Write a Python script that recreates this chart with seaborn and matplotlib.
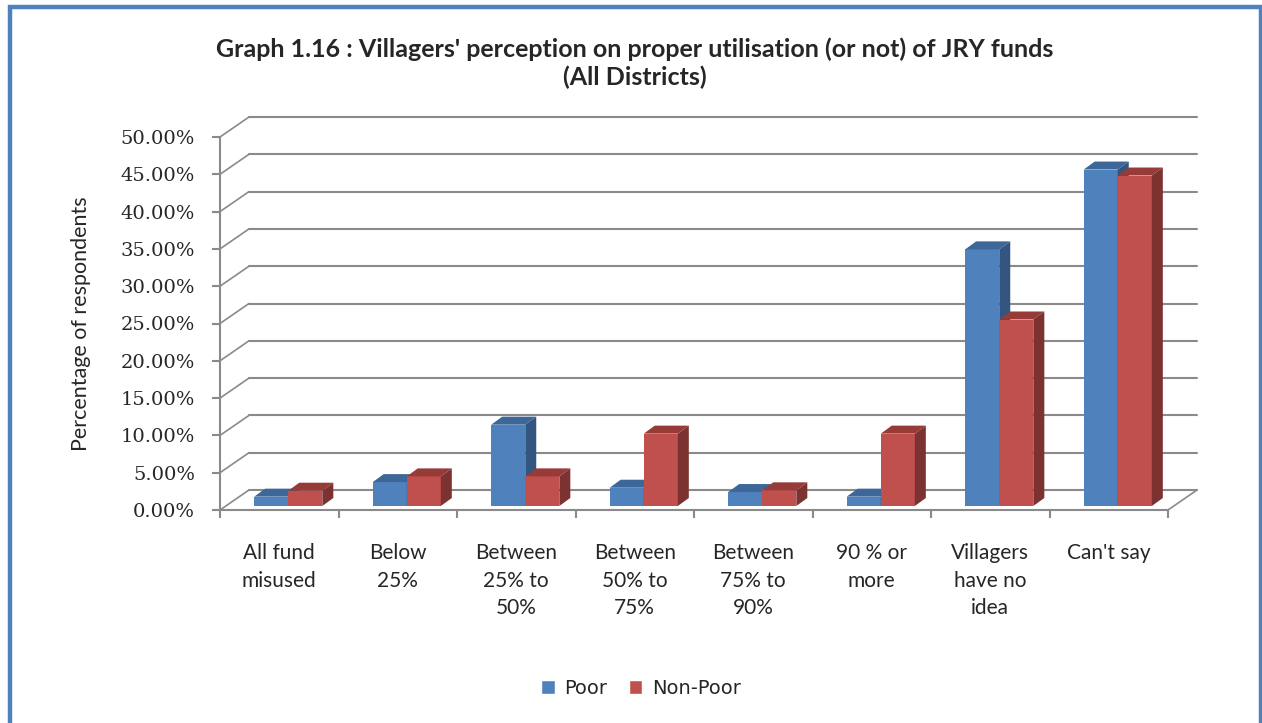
import pandas as pd
import matplotlib.pyplot as plt
import seaborn as sns
from matplotlib.patches import Polygon, Rectangle
from matplotlib.ticker import FuncFormatter, MultipleLocator

sns.set_style('white')
plt.rcParams['font.family'] = ['Lato', 'DejaVu Sans']

# data (share of respondents)
categories = ['All fund\nmisused', 'Below\n25%', 'Between\n25% to\n50%', 'Between\n50% to\n75%',
              'Between\n75% to\n90%', '90 % or\nmore', 'Villagers\nhave no\nidea', "Can't say"]
poor = [0.0125, 0.032, 0.109, 0.0245, 0.0187, 0.0125, 0.344, 0.451]
non_poor = [0.0205, 0.0397, 0.0397, 0.097, 0.021, 0.097, 0.250, 0.443]
groups = ['Poor', 'Non-Poor']

df = pd.DataFrame({
    'category': categories * 2,
    'group': ['Poor'] * len(categories) + ['Non-Poor'] * len(categories),
    'value': poor + non_poor,
})

front = {'Poor': '#4F81BD', 'Non-Poor': '#C0504D'}
top_c = {'Poor': '#3D6699', 'Non-Poor': '#973B38'}
side_c = {'Poor': '#34557F', 'Non-Poor': '#7B3230'}
grid_c = '#8A8A8A'

W, H = 1262, 723
fig = plt.figure(figsize=(W / 100, H / 100), dpi=100)
# front plane of the 3d box, in pixels
x0, x1, yb, yt = 220, 1168, 510, 137
ax = fig.add_axes([x0 / W, 1 - yb / H, (x1 - x0) / W, (yb - yt) / H])

sns.barplot(data=df, x='category', y='value', hue='group', hue_order=groups,
            palette=front, width=0.575, saturation=1, ax=ax, legend=True)

ax.set_xlim(-0.5, len(categories) - 0.5)
ax.set_ylim(0, 0.5)

# pixel -> data units
xpp = len(categories) / (x1 - x0)
ypp = 0.5 / (yb - yt)

# back wall offset, bar offset and bar depth (pixels)
wall_dx, wall_dy = 29 * xpp, 20 * ypp
bar_dx, bar_dy = 9 * xpp, 4 * ypp
dep_x, dep_y = 11 * xpp, 8 * ypp

# walls: grid on back wall, diagonals on side wall, floor edge
xl, xr = ax.get_xlim()
for k in range(11):
    y = k * 0.05
    ax.plot([xl + wall_dx, xr + wall_dx], [y + wall_dy] * 2, color=grid_c, lw=1.5,
            clip_on=False, zorder=0.5)
    ax.plot([xl, xl + wall_dx], [y, y + wall_dy], color=grid_c, lw=1.2,
            clip_on=False, zorder=0.5)
ax.plot([xr, xr + wall_dx], [0, wall_dy], color=grid_c, lw=1.2, clip_on=False, zorder=0.5)

# give the bars a 3d look
for i, (cont, g) in enumerate(zip(ax.containers, groups)):
    for p in cont.patches:
        p.set_x(p.get_x() + bar_dx)
        p.set_y(p.get_y() + bar_dy)
        p.set_zorder(2 + i)
        p.set_edgecolor('none')
        bx, by, bw, bh = p.get_x(), p.get_y(), p.get_width(), p.get_height()
        top = Polygon([(bx, by + bh), (bx + bw, by + bh), (bx + bw + dep_x, by + bh + dep_y),
                       (bx + dep_x, by + bh + dep_y)], closed=True, facecolor=top_c[g],
                      edgecolor='none', clip_on=False, zorder=2 + i)
        side = Polygon([(bx + bw, by), (bx + bw + dep_x, by + dep_y),
                        (bx + bw + dep_x, by + bh + dep_y), (bx + bw, by + bh)], closed=True,
                       facecolor=side_c[g], edgecolor='none', clip_on=False, zorder=2 + i)
        ax.add_patch(top)
        ax.add_patch(side)

# axes
for s in ['top', 'right']:
    ax.spines[s].set_visible(False)
for s in ['left', 'bottom']:
    ax.spines[s].set_color(grid_c)
    ax.spines[s].set_linewidth(1.5)

ax.yaxis.set_major_locator(MultipleLocator(0.05))
ax.yaxis.set_major_formatter(FuncFormatter(lambda v, pos: f'{v * 100:.2f}%'))
ax.tick_params(axis='y', which='major', left=True, length=6, width=1.5, color=grid_c,
               pad=12, labelsize=14, labelfontfamily='DejaVu Serif')

ax.set_xticks(range(len(categories)))
ax.set_xticklabels(categories, linespacing=1.45, va='top')
ax.set_xticks([i - 0.5 for i in range(len(categories) + 1)], minor=True)
ax.tick_params(axis='x', which='major', bottom=False, length=0, pad=24, labelsize=15)
ax.tick_params(axis='x', which='minor', bottom=True, length=6, width=1.5, color=grid_c)

ax.set_xlabel('')
ax.set_ylabel('Percentage of respondents', fontsize=15.5)
ax.yaxis.set_label_coords((91 - x0) / (x1 - x0), 0.5)

handles, labels = ax.get_legend_handles_labels()
ax.get_legend().remove()
fig.legend(handles, labels, loc='center', bbox_to_anchor=(0.508, 1 - 688 / H), ncol=2,
           frameon=False, handlelength=0.7, handleheight=0.7, handletextpad=0.5,
           columnspacing=1.1, prop={'family': 'DejaVu Sans', 'size': 14})

fig.text(0.503, 1 - 63 / H,
         "Graph 1.16 : Villagers' perception on proper utilisation (or not) of JRY funds\n(All Districts)",
         ha='center', va='center', fontsize=18, fontweight='bold', linespacing=1.25)

# blue chart border
fig.patches.append(Rectangle((9.5 / W, -0.05), (1261 - 9.5) / W, 1.05 - 7 / H,
                             transform=fig.transFigure, fill=False, edgecolor='#4F81BD',
                             lw=3.2, clip_on=False))

fig.savefig('out.png', dpi=100)
